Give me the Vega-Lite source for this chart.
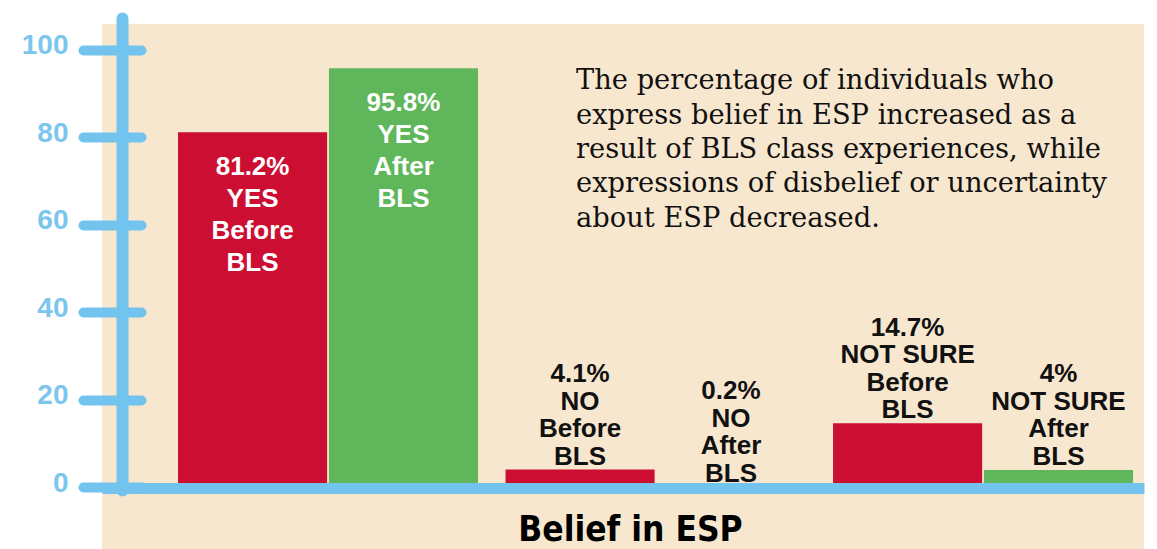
{
  "$schema": "https://vega.github.io/schema/vega-lite/v6.json",
  "width": 1042,
  "height": 525,
  "autosize": {"type": "none"},
  "padding": {"left": 102, "top": 24, "right": 13, "bottom": 0},
  "background": "#ffffff",
  "config": {"view": {"stroke": null, "fill": "#f8e7cf"}},
  "data": {"values": [
    {"group": "YES", "time": "Before", "value": 81.2, "label": ["81.2%", "YES", "Before", "BLS"]},
    {"group": "YES", "time": "After", "value": 95.8, "label": ["95.8%", "YES", "After", "BLS"]},
    {"group": "NO", "time": "Before", "value": 4.1, "label": ["4.1%", "NO", "Before", "BLS"]},
    {"group": "NO", "time": "After", "value": 0.2, "label": ["0.2%", "NO", "After", "BLS"]},
    {"group": "NOT SURE", "time": "Before", "value": 14.7, "label": ["14.7%", "NOT SURE", "Before", "BLS"]},
    {"group": "NOT SURE", "time": "After", "value": 4, "label": ["4%", "NOT SURE", "After", "BLS"]}
  ]},
  "resolve": {"axis": {"x": "independent"}},
  "layer": [
    {
      "mark": {"type": "bar"},
      "encoding": {
        "x": {
          "field": "group", "type": "nominal",
          "scale": {"domain": ["YES", "NO", "NOT SURE"], "paddingInner": 0.084, "paddingOuter": 0.1328, "align": 0.874},
          "axis": {
            "orient": "bottom", "offset": -61, "zindex": 1,
            "domainColor": "#72c3ee", "domainWidth": 11, "domainCap": "butt",
            "ticks": false, "labels": false, "grid": false,
            "title": "Belief in ESP",
            "titleFont": "DejaVu Sans Condensed, Liberation Sans Narrow, sans-serif",
            "titleFontSize": 35, "titleFontWeight": "bold", "titleColor": "#000000",
            "titleBaseline": "alphabetic", "titleAlign": "center", "titleX": 528, "titleY": 52
          }
        },
        "xOffset": {"field": "time", "type": "nominal", "scale": {"domain": ["Before", "After"], "paddingInner": 0.012, "paddingOuter": 0}},
        "y": {
          "field": "value", "type": "quantitative", "title": null,
          "scale": {"domain": [-14.06, 105.94], "nice": false, "zero": false},
          "axis": {
            "orient": "left", "offset": -39, "zindex": 1,
            "values": [0, 20, 40, 60, 80, 100],
            "domain": false, "grid": false,
            "tickSize": 58, "tickWidth": 10, "tickColor": "#72c3ee", "tickCap": "round",
            "labelFont": "Liberation Sans", "labelFontSize": 28, "labelFontWeight": "bold",
            "labelColor": "#7cc6ee", "labelPadding": 15, "labelBaseline": "middle", "labelOffset": -4
          }
        },
        "y2": {"datum": 0},
        "color": {"field": "time", "type": "nominal", "scale": {"domain": ["Before", "After"], "range": ["#cc0e32", "#5fb65b"]}, "legend": null}
      }
    },
    {
      "transform": [{"filter": "datum.value > 50"}],
      "mark": {"type": "text", "align": "center", "baseline": "top", "dy": 22, "font": "Liberation Sans", "fontSize": 26, "fontWeight": "bold", "fill": "#ffffff", "lineHeight": 32},
      "encoding": {
        "x": {"field": "group", "type": "nominal", "axis": null},
        "xOffset": {"field": "time", "type": "nominal"},
        "y": {"field": "value", "type": "quantitative", "title": null},
        "text": {"field": "label", "type": "nominal"}
      }
    },
    {
      "transform": [{"filter": "datum.value <= 50"}],
      "mark": {"type": "text", "align": "center", "baseline": "alphabetic", "dy": -87.5, "font": "Liberation Sans", "fontSize": 26, "fontWeight": "bold", "fill": "#111111", "lineHeight": 27.5},
      "encoding": {
        "x": {"field": "group", "type": "nominal", "axis": null},
        "xOffset": {"field": "time", "type": "nominal"},
        "y": {"field": "value", "type": "quantitative", "title": null},
        "text": {"field": "label", "type": "nominal"}
      }
    },
    {
      "data": {"values": [{"note": ["The percentage of individuals who", "express belief in ESP increased as a", "result of BLS class experiences, while", "expressions of disbelief or uncertainty", "about ESP decreased."]}]},
      "mark": {"type": "text", "align": "left", "baseline": "top", "dx": -79.5, "font": "DejaVu Serif", "fontSize": 27.3, "fill": "#111111", "lineHeight": 34.3},
      "encoding": {
        "x": {
          "datum": "NO", "type": "nominal",
          "axis": {
            "orient": "top", "values": ["YES"], "bandPosition": 0, "tickOffset": -56,
            "offset": 6, "tickSize": -472, "tickWidth": 12, "tickColor": "#72c3ee", "tickCap": "round",
            "domain": false, "labels": false, "grid": false, "title": null, "zindex": 1
          }
        },
        "y": {"datum": 96, "type": "quantitative", "title": null},
        "text": {"field": "note", "type": "nominal"}
      }
    }
  ]
}
